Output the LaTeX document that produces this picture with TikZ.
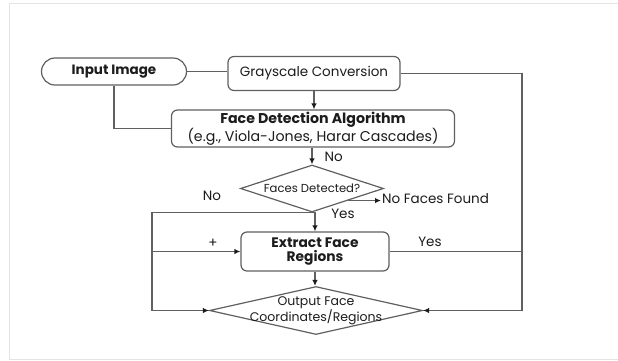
\documentclass[tikz,border=0pt]{standalone}
\usepackage{fontspec}
\setmainfont{Poppins}
\usetikzlibrary{shapes.geometric,shapes.misc,arrows.meta}
\definecolor{linec}{HTML}{606060}
\definecolor{txtc}{HTML}{1C1C1C}
\definecolor{framec}{HTML}{E4E4E4}
\tikzset{
  boxst/.style={draw=linec, line width=1.2pt, rounded corners=6pt, text=txtc, align=center, inner sep=0pt},
  termst/.style={draw=linec, line width=1.2pt, rounded rectangle, text=txtc, inner sep=0pt},
  decst/.style={draw=linec, line width=1.2pt, diamond, text=txtc, align=center},
  conn/.style={draw=linec, line width=1.2pt},
  arr/.style={conn, -{Latex[length=6pt,width=5.5pt,color=txtc]}},
  lbl/.style={text=txtc, inner sep=1pt, font=\fontsize{13.5}{15}\selectfont}
}
\begin{document}
\begin{tikzpicture}[x=1pt,y=-1pt]
\useasboundingbox (0,0) rectangle (618,360);
\fill[white] (0,0) rectangle (618,360);
\draw[framec, line width=1pt] (620,3) -- (9,3) -- (9,359) -- (620,359);

\node[termst, minimum width=145pt, minimum height=27pt, font=\bfseries\fontsize{13.5}{15}\selectfont] (in) at (114,71.5) {Input Image};
\node[boxst, minimum width=172pt, minimum height=34pt, font=\fontsize{13.5}{15}\selectfont] (gs) at (314,73.5) {Grayscale Conversion};
\node[boxst, minimum width=283pt, minimum height=37pt, font=\fontsize{14.2}{14.2}\selectfont] (fda) at (313,128.5) {\textbf{Face Detection Algorithm}\\(e.g., Viola-Jones, Harar Cascades)};
\node[decst, shape aspect=3.04, inner xsep=-6pt, inner ysep=-2pt, minimum width=143pt, minimum height=47pt, font=\fontsize{11.6}{13}\selectfont] (fd) at (312,188.5) {Faces Detected?};
\node[boxst, minimum width=148pt, minimum height=39pt, font=\bfseries\fontsize{13.8}{13.5}\selectfont] (ef) at (315,251.5) {Extract Face\\Regions};
\node[decst, shape aspect=4.44, inner xsep=-30pt, inner ysep=-4pt, minimum width=213pt, minimum height=48pt, font=\fontsize{12.5}{13}\selectfont] (od) at (316,310.5) {Output Face\\Coordinates/Regions};
\node[lbl, anchor=west] (nff) at (381,199) {No Faces Found};

\coordinate (rbot) at (522,310.5);
\coordinate (lbot) at (152,310.5);

\draw[conn] (in.east) -- (in.east -| gs.west);
\draw[conn] (in.south) |- (fda.west);
\draw[arr] (gs.south) -- (gs.south |- fda.north);
\draw[arr] (fda.south -| fd.north) -- (fd.north) node[lbl, pos=0.55, right=11pt] (lno) {No};
\draw[arr] (gs.east) -| (rbot) -- (od.east);
\draw[arr] (fd.south east) -- (fd.south east -| nff.west);
\draw[arr] (fd.south) -| (lbot) -- (od.west);
\draw[arr] (fd.south) -- (fd.south -| ef.north) -- (ef.north);
\draw[arr] (lbot |- ef.west) -- (ef.west);
\draw[conn] (ef.east) -- (ef.east -| rbot);
\draw[arr] (ef.south) -- (ef.south |- od.north);

\node[lbl] (lno2) at (212,196) {No};
\node[lbl] (lyes1) at (343,214) {Yes};
\node[lbl] (lplus) at (213,243) {+};
\node[lbl] (lyes2) at (430,242) {Yes};
\end{tikzpicture}
\end{document}
